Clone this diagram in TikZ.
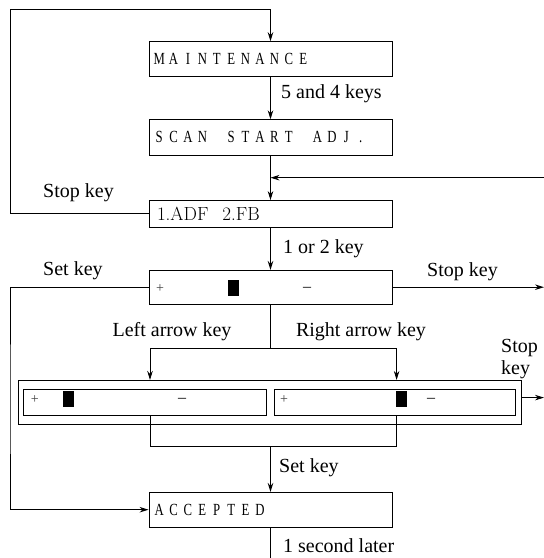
\documentclass[tikz,border=0pt]{standalone}
\usepackage{fontspec}
\usetikzlibrary{arrows.meta}
\newfontfamily\tms{Liberation Serif}
\newfontfamily\lcd[FakeStretch=0.75]{Liberation Serif}
\newcommand\lcdcells[1]{\lcdloop#1\relax}
\def\lcdloop#1{\ifx#1\relax\else\makebox[14.4pt]{#1}\expandafter\lcdloop\fi}
\begin{document}
\begin{tikzpicture}[x=1pt,y=-1pt,
  ln/.style={line width=0.9pt},
  arr/.style={ln,-{Stealth[length=9pt,width=5.5pt]}},
  box/.style={draw,ln,minimum width=243pt,minimum height=34.7pt,inner sep=0pt,text width=237pt,align=left,font=\lcd\fontsize{17}{19}\selectfont},
  frame/.style={draw,ln,inner sep=0pt},
  lbl/.style={font=\tms\fontsize{20}{22}\selectfont,inner sep=0pt},
  mk/.style={font=\tms\fontsize{14}{16}\selectfont,inner sep=0pt,text=black!75},
  minus/.style={font=\tms\fontsize{16}{18}\selectfont,inner sep=0pt}]
\useasboundingbox (0,0) rectangle (544,558);
% boxes
\node[box] (maint) at (270.5,59) {\lcdcells{MAINTENANCE}};
\node[box,minimum height=35.3pt] (scan) at (270.5,137.4) {\lcdcells{SCAN~START~ADJ.}};
\node[box,minimum height=26.5pt,font=\rmfamily\fontsize{19}{21}\selectfont] (adf) at (270.5,213.8) {\hspace{5pt}1.ADF\hspace{14pt}2.FB};
\node[box,minimum height=33.6pt] (disp) at (270.5,287.2) {};
\node[frame,minimum width=503.5pt,minimum height=44.3pt] (outer) at (269.75,402.55) {};
\node[frame,minimum width=242.9pt,minimum height=26.3pt] (inL) at (145.05,402.15) {};
\node[frame,minimum width=241.6pt,minimum height=26.3pt] (inR) at (394.8,402.15) {};
\node[box,minimum height=34.6pt] (acc) at (270.5,509.7) {\lcdcells{ACCEPTED}};
% display marks
\node[mk] (p1) at (160,288.5) {+};
\fill (228,280) rectangle (239.4,296);
\node[minus] (m1) at (307,289.5) {–};
\node[mk] (p2) at (34.7,399.7) {+};
\fill (62.5,391) rectangle (73.6,406.7);
\node[minus] (m2) at (182,400.5) {–};
\node[mk] (p3) at (284,399.7) {+};
\fill (396,391) rectangle (407,406.7);
\node[minus] (m3) at (431,400.5) {–};
% coordinates
\coordinate (tl) at (10,9.7);
\coordinate (bl) at (10,400);
\coordinate (rin) at (544,177.7);
\coordinate (rout) at (544,287.2);
\coordinate (rout2) at (544,397.6);
\coordinate (sL) at (150,348.5);
\coordinate (sR) at (396.6,348.5);
\coordinate (jL) at (150,446.2);
\coordinate (jR) at (396.6,446.2);
\coordinate (bot) at (270.5,558);
% connectors
\draw[arr] (adf.west) -| (tl) -| (maint.north);
\draw[arr] (maint.south) -- (scan.north);
\draw[arr] (scan.south) -- (adf.north);
\draw[arr] (rin) -- (rin -| scan.south);
\draw[arr] (adf.south) -- (disp.north);
\draw[arr] (disp.west) -| (bl) |- (acc.west);
\draw[arr] (disp.east) -- (rout);
\draw[ln] (disp.south) -- (disp.south |- sL);
\draw[ln] (sL) -- (sR);
\draw[arr] (sL) -- (sL |- outer.north);
\draw[arr] (sR) -- (sR |- outer.north);
\draw[arr] (outer.east |- rout2) -- (rout2);
\draw[ln] (inL.south -| jL) -- (jL) -- (jR) -- (inR.south -| jR);
\draw[arr] (jL -| acc.north) -- (acc.north);
\draw[ln] (acc.south) -- (bot);
% labels
\node[lbl,anchor=west] (l1) at (281,94) {5 and 4 keys};
\node[lbl,anchor=west] (l2) at (43,193) {Stop key};
\node[lbl,anchor=west] (l3) at (283,248.6) {1 or 2 key};
\node[lbl,anchor=west] (l4) at (43,271) {Set key};
\node[lbl,anchor=west] (l5) at (427,272) {Stop key};
\node[lbl] (l6) at (172,332) {Left arrow key};
\node[lbl] (l7) at (361,332) {Right arrow key};
\node[lbl,anchor=west,align=left] (l8) at (501,359) {Stop\\key};
\node[lbl,anchor=west] (l9) at (279,468) {Set key};
\node[lbl,anchor=west] (l10) at (283,546) {1 second later};
\end{tikzpicture}
\end{document}
